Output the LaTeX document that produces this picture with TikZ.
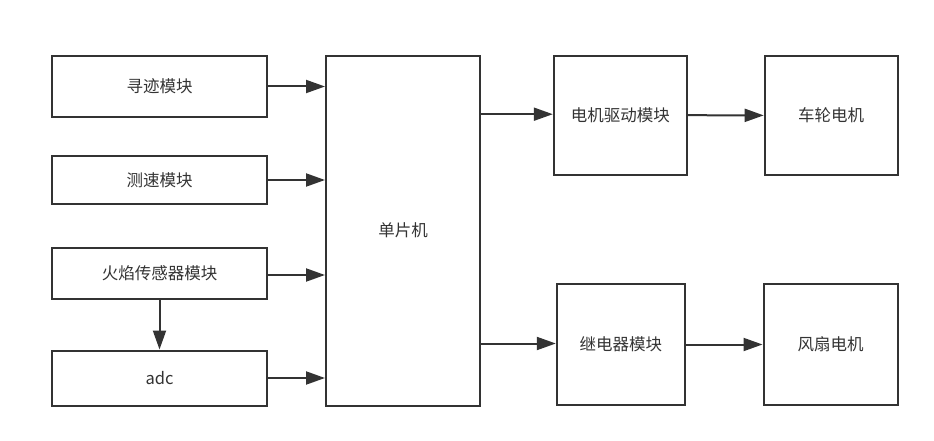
\documentclass[tikz,border=0pt]{standalone}
\usepackage{fontspec}
\setmainfont{Noto Sans CJK SC}
\usetikzlibrary{arrows.meta}
\definecolor{ink}{HTML}{333333}
\begin{document}
\begin{tikzpicture}[x=1pt,y=-1pt,
  blk/.style={draw=ink,line width=2pt,text=ink,font=\fontsize{16.5}{18}\selectfont,inner sep=0pt},
  arr/.style={draw=ink,line width=2pt,-{Triangle[length=19pt,width=13pt]}}]
\useasboundingbox (0,0) rectangle (934,441);
\node[blk,minimum width=215,minimum height=61] (trk) at (159.5,86.5) {寻迹模块};
\node[blk,minimum width=215,minimum height=48] (spd) at (159.5,180) {测速模块};
\node[blk,minimum width=215,minimum height=51] (fire) at (159.5,273.5) {火焰传感器模块};
\node[blk,minimum width=215,minimum height=55] (adc) at (159.5,378) {adc};
\node[blk,minimum width=154,minimum height=350] (mcu) at (403,230.7) {单片机};
\node[blk,minimum width=133,minimum height=119] (drv) at (620.3,115.2) {电机驱动模块};
\node[blk,minimum width=133,minimum height=119] (whl) at (831.2,115.4) {车轮电机};
\node[blk,minimum width=128,minimum height=121] (rly) at (620.8,344.5) {继电器模块};
\node[blk,minimum width=134,minimum height=121] (fan) at (830.5,344.5) {风扇电机};
\draw[arr] (trk.east) -- (trk.east -| mcu.west);
\draw[arr] (spd.east) -- (spd.east -| mcu.west);
\draw[arr] ([yshift=-1.5]fire.east) -- ([yshift=-1.5]fire.east -| mcu.west);
\draw[arr] (adc.east) -- (adc.east -| mcu.west);
\draw[arr] (fire.south) -- (adc.north);
\draw[arr] ([yshift=1]drv.west -| mcu.east) -- ([yshift=1]drv.west);
\draw[arr] (drv.east) -- (whl.west);
\draw[arr] ([yshift=1]rly.west -| mcu.east) -- ([yshift=1]rly.west);
\draw[arr] (rly.east) -- (fan.west);
\end{tikzpicture}
\end{document}
